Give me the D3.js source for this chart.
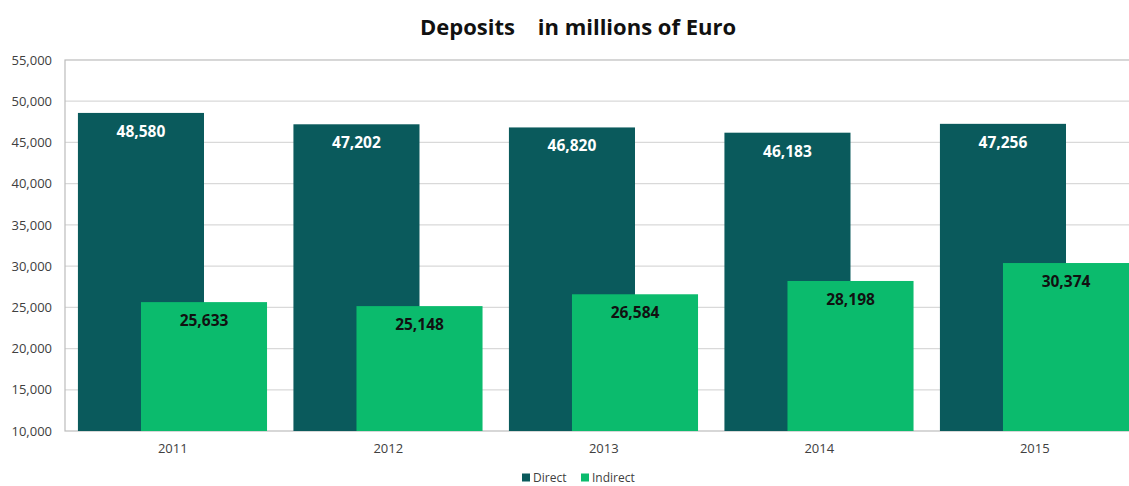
<!DOCTYPE html>
<html>
<head>
<meta charset="utf-8">
<script src="https://cdn.jsdelivr.net/npm/d3@7"></script>
<style>
  html, body { margin: 0; padding: 0; background: #ffffff; }
  svg { display: block; }
  text { font-family: "Open Sans", "Liberation Sans", sans-serif; }
</style>
</head>
<body>
<svg id="chart" width="1129" height="486"></svg>
<script>
// Deposits by year, in millions of Euro
const years = ["2011", "2012", "2013", "2014", "2015"];
const direct = [48580, 47202, 46820, 46183, 47256];
const indirect = [25633, 25148, 26584, 28198, 30374];
const seriesNames = ["Direct", "Indirect"];
const seriesColors = ["#0a5a5c", "#0bbb6d"];
const yTicks = [10000, 15000, 20000, 25000, 30000, 35000, 40000, 45000, 50000, 55000];
const titleText = "Deposits    in millions of Euro";

const svg = d3.select("#chart");
const plot = { left: 65, top: 60, right: 1142.5, bottom: 431 };

const x = d3.scaleBand().domain(years).range([plot.left, plot.right]).padding(0);
const y = d3.scaleLinear().domain([10000, 55000]).range([plot.bottom, plot.top]);
const fmt = d3.format(",");

// gridlines
svg.append("g")
  .selectAll("line")
  .data(yTicks.filter(t => t > 10000 && t < 55000))
  .join("line")
  .attr("x1", plot.left).attr("x2", plot.right)
  .attr("y1", d => y(d)).attr("y2", d => y(d))
  .attr("stroke", "#d9d9d9").attr("stroke-width", 1.2);

// plot frame
svg.append("rect")
  .attr("x", plot.left).attr("y", plot.top)
  .attr("width", plot.right - plot.left).attr("height", plot.bottom - plot.top)
  .attr("fill", "none").attr("stroke", "#bcbcbc").attr("stroke-width", 1.2);

// y axis labels
const yAxis = d3.axisLeft(y).tickValues(yTicks).tickFormat(fmt).tickSize(0).tickPadding(13);
const gy = svg.append("g").attr("transform", `translate(${plot.left},0)`).call(yAxis);
gy.select(".domain").remove();
gy.selectAll("text").attr("font-size", 13).attr("fill", "#404040")
  .attr("font-family", "'Open Sans', sans-serif");

// x axis labels
const xAxis = d3.axisBottom(x).tickSize(0).tickPadding(13);
const gx = svg.append("g").attr("transform", `translate(0,${plot.bottom})`).call(xAxis);
gx.select(".domain").remove();
gx.selectAll("text").attr("font-size", 13).attr("fill", "#404040")
  .attr("font-family", "'Open Sans', sans-serif");

// bar geometry within each year band
const bw = x.bandwidth();
const groupPad = bw * 0.06;
const barW = bw * 0.585;
const barShift = barW / 2;

const rows = years.map((yr, i) => ({ year: yr, values: [direct[i], indirect[i]] }));

const groups = svg.append("g").selectAll("g")
  .data(rows).join("g")
  .attr("transform", d => `translate(${x(d.year)},0)`);

groups.selectAll("rect")
  .data(d => d.values.map((v, k) => ({ v, k })))
  .join("rect")
  .attr("x", d => groupPad + d.k * barShift)
  .attr("y", d => y(d.v))
  .attr("width", barW)
  .attr("height", d => y(10000) - y(d.v))
  .attr("fill", d => seriesColors[d.k]);

groups.selectAll("text.val")
  .data(d => d.values.map((v, k) => ({ v, k })))
  .join("text")
  .attr("class", "val")
  .attr("x", d => groupPad + d.k * barShift + barW / 2)
  .attr("y", d => y(d.v) + 24)
  .attr("text-anchor", "middle")
  .attr("font-size", 15.5)
  .attr("font-weight", "bold")
  .attr("fill", d => d.k === 0 ? "#ffffff" : "#111111")
  .text(d => fmt(d.v));

// title
svg.append("text")
  .attr("x", 578).attr("y", 35)
  .attr("text-anchor", "middle")
  .attr("font-size", 22)
  .attr("font-weight", "bold")
  .attr("fill", "#111111")
  .style("white-space", "pre")
  .text(titleText);

// legend
const legend = svg.append("g").attr("transform", "translate(522,482)");
const legendItems = legend.selectAll("g").data(seriesNames).join("g")
  .attr("transform", (d, i) => `translate(${i === 0 ? 0 : 59},0)`);
legendItems.append("rect")
  .attr("x", 0).attr("y", -8.5).attr("width", 8).attr("height", 8)
  .attr("fill", (d, i) => seriesColors[i]);
legendItems.append("text")
  .attr("x", 11).attr("y", 0)
  .attr("font-size", 12).attr("fill", "#404040")
  .text(d => d);
</script>
</body>
</html>
